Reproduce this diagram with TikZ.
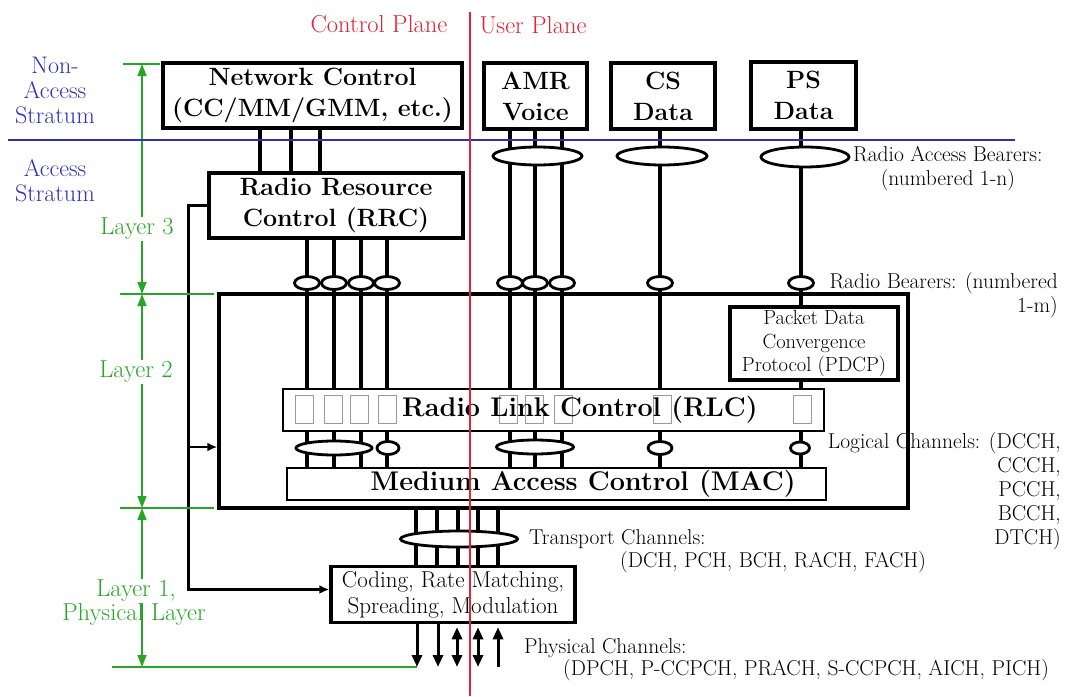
\documentclass[tikz,border=0pt]{standalone}
\usetikzlibrary{arrows.meta,shapes.geometric}
\definecolor{layergreen}{RGB}{40,165,40}
\definecolor{stratblue}{RGB}{45,45,190}
\definecolor{planered}{RGB}{225,35,55}
\tikzset{
  box/.style={draw, line width=3.5pt, fill=white, inner sep=0pt, align=center,
    font=\fontsize{25}{31}\selectfont\bfseries},
  thinbox/.style={draw, line width=1.5pt, fill=white, inner sep=0pt},
  boldtxt/.style={inner sep=0pt, font=\fontsize{27}{31}\selectfont\bfseries},
  chan/.style={line width=3.2pt},
  bearer/.style={ellipse, draw, line width=2.8pt, fill=white, inner sep=0pt},
  entity/.style={draw=black!40, line width=1pt, minimum width=18, minimum height=28, inner sep=0pt},
  lbl/.style={inner sep=0pt, font=\fontsize{21.5}{24}\selectfont},
  strat/.style={inner sep=0pt, align=center, text=stratblue, font=\fontsize{24}{25}\selectfont},
  plane/.style={inner sep=0pt, text=planered, font=\fontsize{24.5}{26}\selectfont},
  layer/.style={inner sep=1pt, align=center, text=layergreen, font=\fontsize{24.5}{26}\selectfont},
  layerline/.style={layergreen, line width=1.5pt},
  layerarr/.style={layerline, {Triangle[length=12pt,width=9pt]}-{Triangle[length=12pt,width=9pt]}},
  phy/.style={line width=3pt, -{Triangle[length=12pt,width=10pt]}},
  phyboth/.style={line width=3pt, {Triangle[length=12pt,width=10pt]}-{Triangle[length=12pt,width=10pt]}},
  feed/.style={line width=2.5pt, -{Latex[length=10pt,width=9pt]}}
}
\begin{document}
\begin{tikzpicture}[x=1pt,y=-1pt]
  \useasboundingbox (0,0) rectangle (1067,696);

  \node[plane] (cplane) at (379,24) {Control Plane};
  \node[plane] (uplane) at (533,25) {User Plane};
  \node[strat] (nas) at (55,90) {Non-\\Access\\Stratum};
  \node[strat] (as) at (55,181) {Access\\Stratum};

  \node[draw, line width=3.5pt, minimum width=689, minimum height=214] (l2) at (563.5,401) {};
  \node[thinbox, minimum width=541, minimum height=42] (rlc) at (553.5,410) {};
  \node[thinbox, minimum width=539, minimum height=32] (mac) at (556.5,484) {};

  \node[box, minimum width=299, minimum height=65] (nc) at (312.5,95.5) {Network Control\\(CC/MM/GMM, etc.)};
  \node[box, minimum width=254, minimum height=65] (rrc) at (336,205.5) {Radio Resource\\Control (RRC)};
  \node[box, minimum width=103, minimum height=66] (amr) at (535.5,96) {AMR\\Voice};
  \node[box, minimum width=104, minimum height=66] (cs) at (663,96) {CS\\Data};
  \node[box, minimum width=105, minimum height=67] (ps) at (803.5,95.5) {PS\\Data};
  \node[box, minimum width=168, minimum height=73, font=\fontsize{20.5}{23.5}\selectfont] (pdcp) at (814,343.5)
    {Packet Data\\Convergence\\Protocol (PDCP)};
  \node[box, minimum width=244, minimum height=56, font=\fontsize{23}{26}\selectfont] (coding) at (453,594.5)
    {Coding, Rate Matching,\\Spreading, Modulation};

  \foreach \x in {260,291,320}
    \draw[chan] (\x,0 |- nc.south) -- (\x,0 |- rrc.north);
  \foreach \x in {307,334,361,387}
    \draw[chan] (\x,0 |- rrc.south) -- (\x,0 |- rlc.north);
  \foreach \x in {510,535,562}
    \draw[chan] (\x,0 |- amr.south) -- (\x,0 |- rlc.north);
  \draw[chan] (660,0 |- cs.south) -- (660,0 |- rlc.north);
  \draw[chan] (801,0 |- ps.south) -- (801,0 |- pdcp.north);
  \draw[chan] (801,0 |- pdcp.south) -- (801,0 |- rlc.north);
  \foreach \x in {307,334,361,387,510,535,562,660,801}
    \draw[chan] (\x,0 |- rlc.south) -- (\x,0 |- mac.north);
  \foreach \x in {416,437,458,478,498}
    \draw[chan] (\x,0 |- l2.south) -- (\x,0 |- coding.north);

  \node[bearer, minimum width=89, minimum height=18] (rab1) at (537.5,156) {};
  \node[bearer, minimum width=90, minimum height=18] (rab2) at (662,156) {};
  \node[bearer, minimum width=88, minimum height=20] (rab3) at (805,157) {};
  \foreach \x [count=\i] in {307,334,361,387,510,535,562,660,801}
    \node[bearer, minimum width=25, minimum height=13] (rb\i) at (\x,283) {};
  \node[bearer, minimum width=76, minimum height=14] (lc1) at (334,448) {};
  \node[bearer, minimum width=22, minimum height=13] (lc2) at (388,448) {};
  \node[bearer, minimum width=77, minimum height=14] (lc3) at (535,447) {};
  \node[bearer, minimum width=24, minimum height=13] (lc4) at (660,448) {};
  \node[bearer, minimum width=19, minimum height=12] (lc5) at (800,448) {};
  \node[bearer, minimum width=117, minimum height=16] (tc) at (459,539) {};

  \foreach \x [count=\i] in {304,333,359,387,508,534,563,662,802}
    \node[entity] (ent\i) at (\x,409) {};
  \node[boldtxt] (rlctxt) at (580,410) {Radio Link Control (RLC)};
  \node[boldtxt] (mactxt) at (583,484) {Medium Access Control (MAC)};

  \draw[feed] (rrc.west) -- ++(-19,0) coordinate (fbtop) |- ([yshift=5pt]coding.west);
  \coordinate (fbmid) at (fbtop |- 0,447);
  \draw[feed] (fbmid) -- (fbmid -| l2.west);

  \coordinate (phyend) at (417,667);
  \draw[layerline] (112,667) -- (phyend);
  \foreach \x in {417,438}
    \draw[phy] (\x,0 |- coding.south) -- (\x,0 |- phyend);
  \foreach \x in {457,478}
    \draw[phyboth] ([yshift=-3pt]\x,0 |- coding.south) -- (\x,0 |- phyend);
  \draw[phy] (498,0 |- phyend) -- ([yshift=-3pt]498,0 |- coding.south);

  \draw[layerline] (123,64) -- (160,64);
  \draw[layerline] (120,294) -- (214,294);
  \draw[layerline] (120,508) -- (214,508);
  \coordinate (l3top) at (142,64);
  \coordinate (l3bot) at (142,294);
  \coordinate (l2bot) at (142,508);
  \coordinate (l1bot) at (142,667);
  \draw[layerarr] (l3top) -- (l3bot);
  \draw[layerarr] (l3bot) -- (l2bot);
  \draw[layerarr] (l2bot) -- (l1bot);
  \node[layer, fill=white] (lay3) at (137,229) {Layer 3};
  \node[layer, fill=white] (lay2) at (136,372) {Layer 2};
  \node[layer, fill=white] (lay1) at (136,591) {Layer 1,};
  \node[layer] (phylay) at (134,614) {Physical Layer};

  \node[lbl, align=center, anchor=west] (rabtxt) at (853,169) {Radio Access Bearers:\\(numbered 1-n)};
  \node[lbl, align=right, anchor=north east] (rbtxt) at (1058,272) {Radio Bearers: (numbered\\1-m)};
  \node[lbl, align=right, anchor=north east] (lctxt) at (1061,432)
    {Logical Channels: (DCCH,\\CCCH,\\PCCH,\\BCCH,\\DTCH)};
  \node[lbl, anchor=west] (tctxt) at (529,539) {Transport Channels:};
  \node[lbl, anchor=west] (tclist) at (620,562) {(DCH, PCH, BCH, RACH, FACH)};
  \node[lbl, anchor=west] (pctxt) at (524,648) {Physical Channels:};
  \node[lbl, anchor=west] (pclist) at (563,670) {(DPCH, P-CCPCH, PRACH, S-CCPCH, AICH, PICH)};

  \draw[stratblue, line width=1.5pt] (8,140) -- (1015,140);
  \draw[planered, line width=1.5pt] (470,12) -- (470,696);
\end{tikzpicture}
\end{document}
